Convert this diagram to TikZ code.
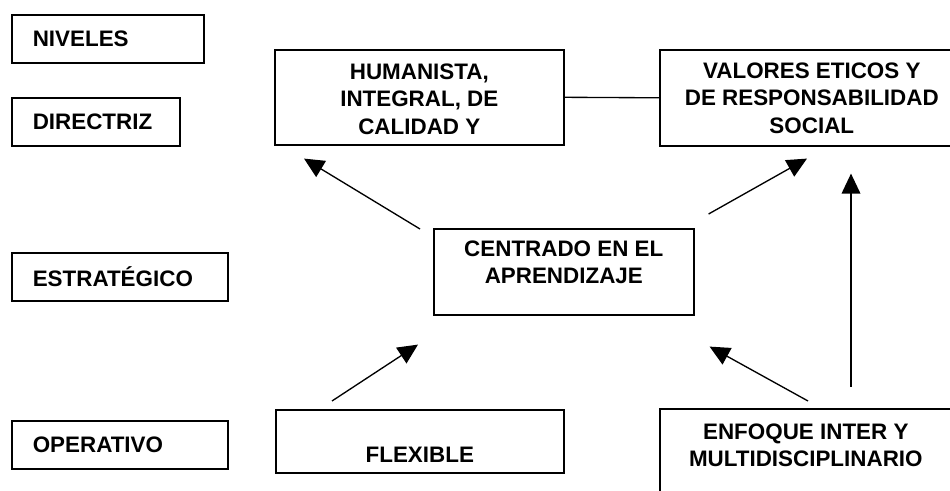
\documentclass[tikz,border=0pt]{standalone}
\usepackage{fontspec}
\setmainfont{Liberation Sans}
\usetikzlibrary{arrows.meta,calc}

\tikzset{
  lvlbox/.style={draw, line width=1.2pt, anchor=north west, minimum height=36pt,
    inner xsep=15.75pt, inner ysep=0pt, align=left},
  ideabox/.style={draw, line width=1.2pt, anchor=north west, inner sep=0pt},
  arr/.style={-{Triangle[length=15pt,width=14pt]}, line width=1pt}
}
\newcommand{\boxtext}[4]{\parbox[c][#2][t]{#1}{\centering\vspace*{#3}#4}}

\begin{document}
\begin{tikzpicture}[x=0.75pt,y=-0.75pt,
  every node/.style={font=\bfseries\fontsize{16.8}{20.6}\selectfont}]
\useasboundingbox[fill=white] (0,0) rectangle (950,491);
% levels
\path (11,14) node (niveles) [lvlbox, text width=112.5pt] {NIVELES};
\path (11,97) node (directriz) [lvlbox, text width=94.5pt] {DIRECTRIZ};
\path (11,252) node (estrategico) [lvlbox, text width=130.5pt] {ESTRATÉGICO};
\path (11,420) node (operativo) [lvlbox, text width=130.5pt] {OPERATIVO};

% ideas
\path (274,49) node (humanista) [ideabox] {\boxtext{216.75pt}{71.25pt}{10.5pt}{HUMANISTA,\\INTEGRAL, DE\\CALIDAD Y}};
\path (659,49) node (valores) [ideabox] {\boxtext{228pt}{72pt}{9.75pt}{VALORES ETICOS Y\\DE RESPONSABILIDAD\\SOCIAL}};
\path (433,228) node (centrado) [ideabox] {\boxtext{195pt}{64.5pt}{9pt}{CENTRADO EN EL\\APRENDIZAJE}};
\path (275,409) node (flexible) [ideabox] {\boxtext{216pt}{47.25pt}{27.75pt}{FLEXIBLE}};
\path (659,408) node (enfoque) [ideabox] {\boxtext{219pt}{75pt}{11.25pt}{ENFOQUE INTER Y\\MULTIDISCIPLINARIO}};

\draw [line width=1pt] (humanista.east) -- (valores.west);
\draw [arr] ($(centrado.north west)+(-13,1)$) -- ($(humanista.south west)+(30,13)$);
\draw [arr] ($(centrado.north east)+(14,-14)$) -- ($(valores.south west)+(148,12)$);
\draw [arr] ($(flexible.north west)+(57,-8)$) -- ($(centrado.south west)+(-15,29)$);
\draw [arr] ($(enfoque.north west)+(149,-7)$) -- ($(centrado.south east)+(15,31)$);
\draw [arr] ($(enfoque.north west)+(192,-21)$) -- ($(valores.south west)+(192,27)$);
\end{tikzpicture}
\end{document}
